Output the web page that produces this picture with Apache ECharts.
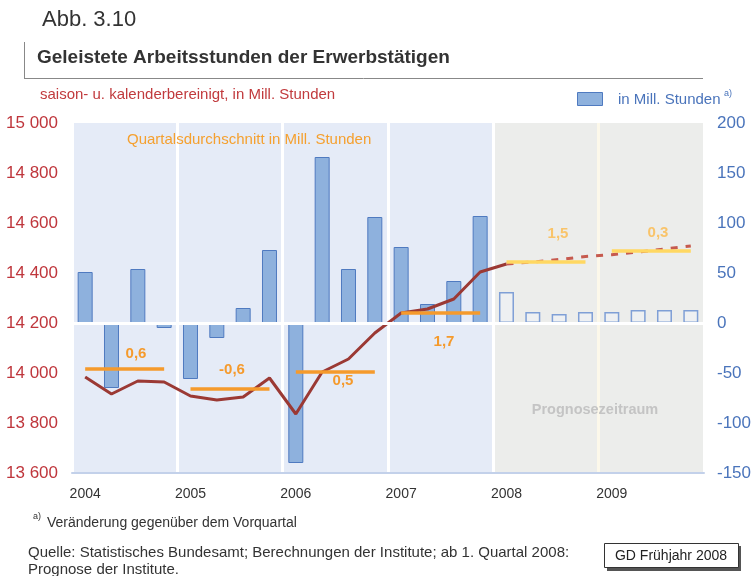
<!DOCTYPE html>
<html>
<head>
<meta charset="utf-8">
<script src="https://cdn.jsdelivr.net/npm/echarts/dist/echarts.min.js"></script>
<style>
html, body { margin: 0; padding: 0; background: #fff; }
#main { width: 754px; height: 576px; }
</style>
</head>
<body>
<div id="main"></div>
<script>
// Quartale 2004-2009, ab 2008 Prognose
var quarters = [
  '2004 Q1', '2004 Q2', '2004 Q3', '2004 Q4',
  '2005 Q1', '2005 Q2', '2005 Q3', '2005 Q4',
  '2006 Q1', '2006 Q2', '2006 Q3', '2006 Q4',
  '2007 Q1', '2007 Q2', '2007 Q3', '2007 Q4',
  '2008 Q1', '2008 Q2', '2008 Q3', '2008 Q4',
  '2009 Q1', '2009 Q2', '2009 Q3', '2009 Q4'
];
// Veraenderung gegenueber Vorquartal (rechte Achse)
var changeVals = [51, -65, 54, -5, -56, -15, 15, 73, -140, 166, 54, 106, 76, 19, 42, 107, 31, 11, 9, 11, 11, 13, 13, 13];
// Arbeitsstunden in Mill. (linke Achse)
var hours = [13984, 13916, 13968, 13964, 13908, 13892, 13904, 13980, 13836, 14004, 14056, 14160,
  14240, 14256, 14296, 14404, 14436, 14444, 14454, 14466, 14473, 14484, 14496, 14508];
// Quartalsdurchschnitt je Jahr
var yearAvg = [14016, 13936, 14004, 14240, 14444, 14488];
var avgLabels = ['0,6', '-0,6', '0,5', '1,7', '1,5', '0,3'];
var forecastStart = 16;

var myChart = echarts.init(document.getElementById('main'));

var FONT = 'Liberation Sans, Arial, sans-serif';

var barData = changeVals.map(function (v, i) {
  if (i < forecastStart) return v;
  return { value: v, itemStyle: { color: '#eef0f2', borderColor: '#7f9fd6', borderWidth: 1.5 } };
});
var histLine = hours.map(function (v, i) { return i <= forecastStart ? v : '-'; });
var progLine = hours.map(function (v, i) { return i >= forecastStart ? v : '-'; });

var series = [
  {
    name: 'in Mill. Stunden',
    type: 'bar',
    yAxisIndex: 1,
    barWidth: 15,
    data: barData,
    itemStyle: { color: '#8eb1dd', borderColor: '#4f7ac0', borderWidth: 1 },
    markLine: {
      silent: true,
      symbol: 'none',
      label: { show: false },
      lineStyle: { color: '#ffffff', width: 3, type: 'solid' },
      data: [{ yAxis: 0 }]
    }
  },
  {
    type: 'line',
    data: histLine,
    symbol: 'none',
    lineStyle: { color: '#9b3934', width: 3 },
    z: 4
  },
  {
    type: 'line',
    data: progLine,
    symbol: 'none',
    lineStyle: { color: '#c65a4e', width: 3, type: [7, 8] },
    z: 4
  }
];

// je Jahr eine waagrechte Linie fuer den Quartalsdurchschnitt
yearAvg.forEach(function (avg, y) {
  var d = quarters.map(function (q, i) {
    return (i >= y * 4 && i < y * 4 + 4) ? avg : '-';
  });
  series.push({
    type: 'line',
    data: d,
    symbol: 'none',
    lineStyle: { color: y * 4 >= forecastStart ? '#ffd862' : '#f59a2c', width: 3.5 },
    z: 5
  });
});

var labelPos = [[136, 354], [232, 370], [343, 381], [444, 342], [558, 234], [658, 233]];

var graphic = [
  { type: 'text', left: 42, top: 9, style: { text: 'Abb. 3.10', font: '22px ' + FONT, fill: '#333' } },
  { type: 'line', shape: { x1: 24.5, y1: 42, x2: 24.5, y2: 78 }, style: { stroke: '#888', lineWidth: 1 } },
  { type: 'line', shape: { x1: 24, y1: 78.5, x2: 703, y2: 78.5 }, style: { stroke: '#888', lineWidth: 1 } },
  { type: 'text', x: 37, y: 58, style: { text: 'Geleistete Arbeitsstunden der Erwerbstätigen', font: 'bold 19px ' + FONT, fill: '#333', textVerticalAlign: 'middle' } },
  { type: 'text', x: 40, y: 95, style: { text: 'saison- u. kalenderbereinigt, in Mill. Stunden', font: '15px ' + FONT, fill: '#c13a3d', textVerticalAlign: 'middle' } },
  { type: 'rect', shape: { x: 577.5, y: 92.5, width: 25, height: 13 }, style: { fill: '#8eb1dd', stroke: '#4f7ac0', lineWidth: 1 } },
  { type: 'text', x: 618, y: 100, style: { text: 'in Mill. Stunden', font: '15px ' + FONT, fill: '#4a74bb', textVerticalAlign: 'middle' } },
  { type: 'text', x: 724, y: 94, style: { text: 'a)', font: '9px ' + FONT, fill: '#4a74bb', textVerticalAlign: 'middle' } },
  { type: 'text', x: 127, y: 140, style: { text: 'Quartalsdurchschnitt in Mill. Stunden', font: '15px ' + FONT, fill: '#f5a02f', textVerticalAlign: 'middle' } },
  { type: 'text', x: 595, y: 410, style: { text: 'Prognosezeitraum', font: 'bold 14.5px ' + FONT, fill: '#c4c4c4', textAlign: 'center', textVerticalAlign: 'middle' } },
  { type: 'text', x: 33, y: 517, style: { text: 'a)', font: '9px ' + FONT, fill: '#333', textVerticalAlign: 'middle' } },
  { type: 'text', x: 47, y: 523, style: { text: 'Veränderung gegenüber dem Vorquartal', font: '14px ' + FONT, fill: '#333', textVerticalAlign: 'middle' } },
  { type: 'text', x: 28, y: 553, style: { text: 'Quelle: Statistisches Bundesamt; Berechnungen der Institute; ab 1. Quartal 2008:', font: '15px ' + FONT, fill: '#333', textVerticalAlign: 'middle' } },
  { type: 'text', x: 28, y: 570, style: { text: 'Prognose der Institute.', font: '15px ' + FONT, fill: '#333', textVerticalAlign: 'middle' } },
  { type: 'rect', shape: { x: 607, y: 546, width: 134, height: 25 }, style: { fill: '#555' } },
  { type: 'rect', shape: { x: 604.5, y: 543.5, width: 134, height: 24 }, style: { fill: '#fff', stroke: '#333', lineWidth: 1 } },
  { type: 'text', x: 671, y: 556, style: { text: 'GD Frühjahr 2008', font: '14px ' + FONT, fill: '#222', textAlign: 'center', textVerticalAlign: 'middle' } }
];
avgLabels.forEach(function (t, i) {
  graphic.push({
    type: 'text', x: labelPos[i][0], y: labelPos[i][1],
    style: { text: t, font: 'bold 15px ' + FONT, fill: i * 4 >= forecastStart ? '#f9c46a' : '#f59a2c', textAlign: 'center', textVerticalAlign: 'middle' }
  });
});
graphic.forEach(function (g) { g.z = 100; });

var option = {
  animation: false,
  grid: { left: 72, right: 47, top: 123, bottom: 103 },
  xAxis: {
    type: 'category',
    data: quarters,
    axisLine: { onZero: false, lineStyle: { color: '#c3d1ea', width: 2 } },
    axisTick: { interval: 3, length: 4, lineStyle: { color: '#c3d1ea', width: 1 } },
    axisLabel: {
      interval: 3,
      margin: 14,
      color: '#333',
      fontSize: 14,
      fontFamily: FONT,
      formatter: function (v) { return v.slice(0, 4); }
    },
    splitLine: {
      show: true,
      interval: 3,
      lineStyle: { color: ['#ffffff', '#ffffff', '#ffffff', '#ffffff', '#ffffff', '#fcf8ea', '#ffffff'], width: 3 }
    },
    splitArea: { show: true, interval: 15, areaStyle: { color: ['#e5ebf7', '#ecedeb'] } }
  },
  yAxis: [
    {
      type: 'value',
      min: 13600,
      max: 15000,
      interval: 200,
      splitLine: { show: false },
      axisLine: { show: false },
      axisTick: { show: false },
      axisLabel: {
        margin: 14,
        color: '#bf363c',
        fontSize: 17,
        fontFamily: FONT,
        formatter: function (v) { return String(v).replace(/\B(?=(\d{3})+$)/, ' '); }
      }
    },
    {
      type: 'value',
      min: -150,
      max: 200,
      interval: 50,
      splitLine: { show: false },
      axisLine: { show: false },
      axisTick: { show: false },
      axisLabel: { margin: 13, color: '#4a74bb', fontSize: 17, fontFamily: FONT }
    }
  ],
  graphic: graphic,
  series: series
};

if (option && typeof option === 'object') {
  myChart.setOption(option);
}
window.addEventListener('resize', function () {
  myChart.resize();
});
</script>
</body>
</html>
